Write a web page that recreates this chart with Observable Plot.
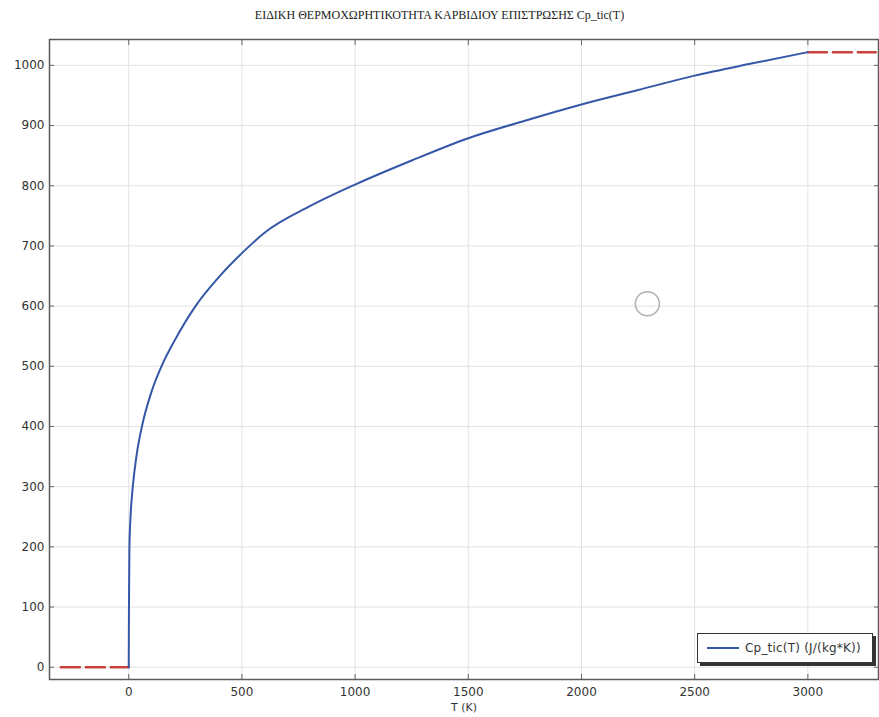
<!DOCTYPE html>
<html><head><meta charset="utf-8">
<script src="https://cdn.jsdelivr.net/npm/d3@7"></script>
<script src="https://cdn.jsdelivr.net/npm/@observablehq/plot@0.6"></script>
<style>
body{margin:0;background:#fff;}
#wrap{position:relative;width:879px;height:717px;overflow:hidden;}
#title{height:30px;font:12px "Liberation Serif",serif;line-height:30px;text-align:center;color:#222;}
#legend{position:absolute;left:697px;top:633px;width:176px;height:30px;border:1px solid #333;background:#fff;box-shadow:3px 3px 0 #333;font:12px "DejaVu Sans",sans-serif;letter-spacing:0.2px;color:#333;display:flex;align-items:center;box-sizing:border-box;}
#legend svg{margin-left:9px;margin-right:6px;}
</style></head><body>
<div id="wrap">
<div id="title">ΕΙΔΙΚΗ ΘΕΡΜΟΧΩΡΗΤΙΚΟΤΗΤΑ ΚΑΡΒΙΔΙΟΥ ΕΠΙΣΤΡΩΣΗΣ Cp_tic(T)</div>
<div id="chart"></div>
<div id="legend"><svg width="32" height="10"><line x1="0" y1="5" x2="32" y2="5" stroke="#3557a8" stroke-width="2"/></svg><span>Cp_tic(T) (J/(kg*K))</span></div>
</div>
<script>
// Temperature (K) and specific heat Cp_tic (J/(kg*K))
const temps = [0, 1, 3, 8, 18, 35, 60, 100, 147, 200, 295, 400, 500, 600, 800, 1000, 1250, 1500, 1750, 2000, 2250, 2500, 2750, 3000];
const cpValues = [0, 100, 200, 250, 300, 353, 403, 457, 502, 541, 600, 649, 688, 722, 766, 802, 842, 879, 908, 935, 959, 983, 1003, 1022];
// Extrapolation (dashed) segments
const leftExtT = [-300, 0];
const leftExtCp = [0, 0];
const rightExtT = [3000, 3300];
const rightExtCp = [1022, 1022];
// Cursor ring seen in the picture
const cursorT = [2291];
const cursorCp = [604];
// Ticks and labels
const xTicks = [0, 500, 1000, 1500, 2000, 2500, 3000];
const yTicks = [0, 100, 200, 300, 400, 500, 600, 700, 800, 900, 1000];
const xLabel = ["T (K)"];

const mainData = temps.map((t, i) => ({T: t, cp: cpValues[i]}));
const leftData = leftExtT.map((t, i) => ({T: t, cp: leftExtCp[i]}));
const rightData = rightExtT.map((t, i) => ({T: t, cp: rightExtCp[i]}));
const cursorData = cursorT.map((t, i) => ({T: t, cp: cursorCp[i]}));

const blue = "#3557a8";
const red = "#c9413c";
const fmt = d => String(d);

const chart = Plot.plot({
  width: 879, height: 687,
  marginTop: 9, marginBottom: 38, marginLeft: 49, marginRight: 1,
  style: {fontFamily: "DejaVu Sans, sans-serif", fontSize: "12px", color: "#333", background: "#fff"},
  x: {domain: [-350, 3312]},
  y: {domain: [-20.4, 1043]},
  marks: [
    Plot.gridX(xTicks, {stroke: "#e2e2e2", strokeOpacity: 1}),
    Plot.gridY(yTicks, {stroke: "#e2e2e2", strokeOpacity: 1}),
    Plot.line(leftData, {x: "T", y: "cp", stroke: red, strokeWidth: 2.5, strokeDasharray: "19,6"}),
    Plot.line(rightData, {x: "T", y: "cp", stroke: red, strokeWidth: 2.5, strokeDasharray: "19,6"}),
    Plot.line(mainData, {x: "T", y: "cp", stroke: blue, strokeWidth: 2, curve: "monotone-x"}),
    Plot.dot(cursorData, {x: "T", y: "cp", r: 12, stroke: "#b0b0b0", strokeWidth: 1.5, fill: "none"}),
    Plot.frame({stroke: "#5a5a5a", strokeWidth: 1.5}),
    Plot.axisX(xTicks, {anchor: "bottom", tickSize: -5, tickPadding: 13, tickFormat: fmt, label: null, stroke: "#666"}),
    Plot.axisX(xTicks, {anchor: "top", tickSize: -5, tickFormat: () => "", label: null, stroke: "#666"}),
    Plot.axisY(yTicks, {anchor: "left", tickSize: -5, tickPadding: 10, tickFormat: fmt, label: null, stroke: "#666"}),
    Plot.axisY(yTicks, {anchor: "right", tickSize: -5, tickFormat: () => "", label: null, stroke: "#666"}),
    Plot.text(xLabel, {frameAnchor: "bottom", dy: 28, fontSize: 11, fill: "#333", lineAnchor: "middle"})
  ]
});
document.getElementById("chart").appendChild(chart);
</script>
</body></html>
